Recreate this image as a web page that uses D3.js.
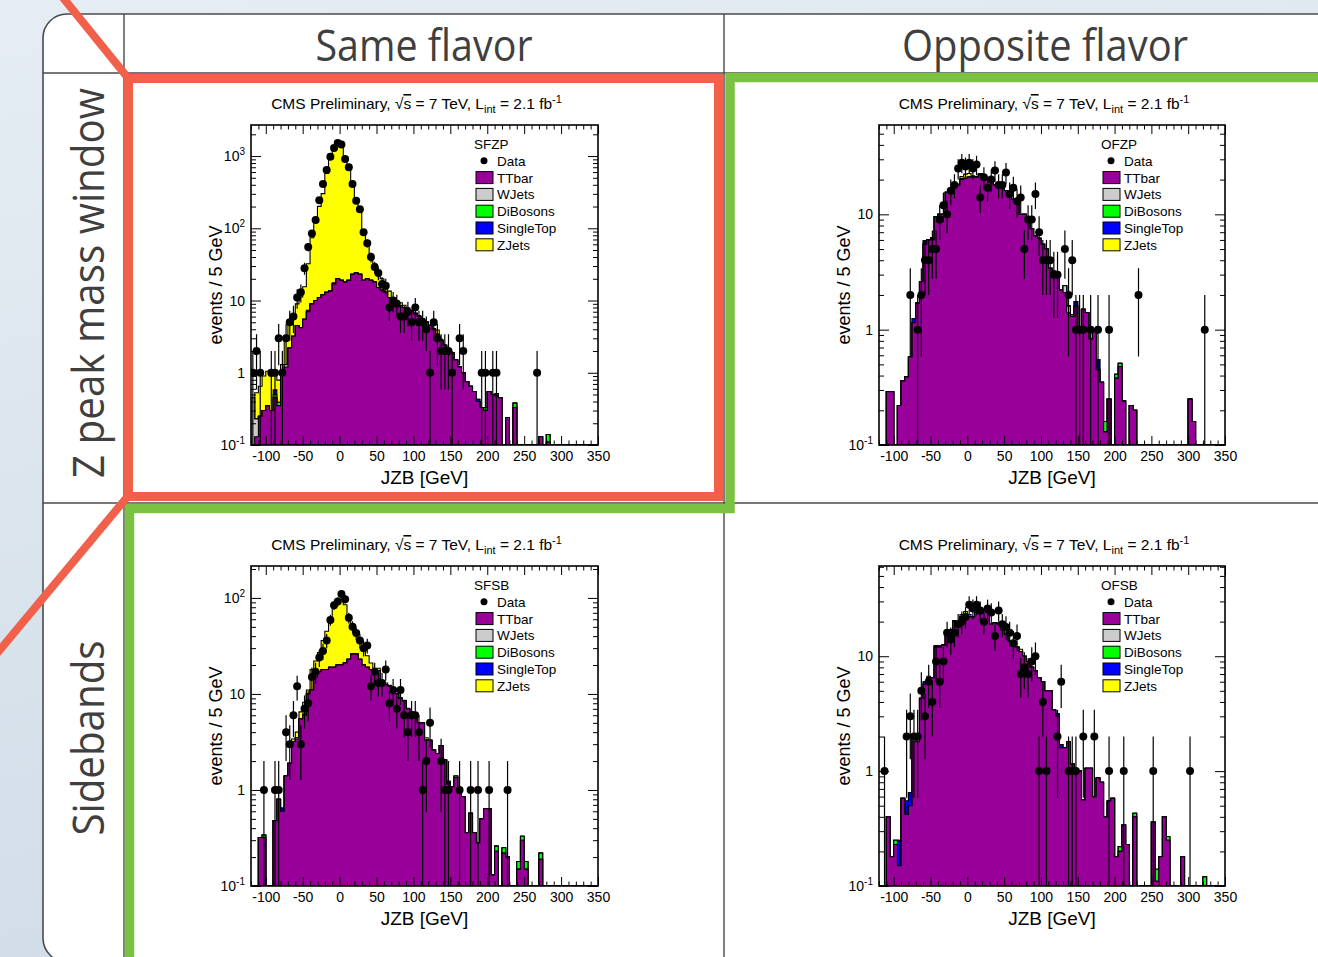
<!DOCTYPE html>
<html>
<head>
<meta charset="utf-8">
<script src="https://cdn.jsdelivr.net/npm/d3@7"></script>
<style>
  body { margin: 0; overflow: hidden; background: #dde6ee; }
  svg { display: block; }
  .root text { font-family: "Liberation Sans", Arial, Helvetica, sans-serif; fill: #000; }
</style>
</head>
<body>
<svg id="slide" width="1318" height="957"></svg>
<script>
// JZB histograms, 5 GeV bins starting at -120 GeV (index 0 = [-120,-115))
// missing trailing entries are empty bins
const sfzpTTbar = [
  0.05,0.13,0.25,0.3,0.35,0.3,0.45,0.35,1.0,1.2,
  2.2,3.2,4.5,4.2,5.5,7,9,10,11,12,
  13,13.5,17,20,19,18,19,23,24,23,
  19,20,19,18,15,14,13,11,9.5,9,
  8.5,8,7.5,7,6.5,6,5.5,5,4.5,4,
  3.4,2.8,2.4,2.1,1.9,1.5,1.2,1.0,0.75,0.65,
  0.55,0.4,0.33,0.3,0.55,0.5,0.48,0.45,0,0.24,
  0,0.33,0,0,0,0,0,0,0.13,0,
  0.11
];
const sfzpZJets = [
  0,0.3,0.4,0.6,0.7,0.6,0.35,0.4,0.3,1.5,
  2.5,3,4.5,7,10,25,65,130,190,290,
  560,950,1300,1600,1450,950,650,380,220,150,
  75,45,25,14,10,6,4,2.5,1.5,1,
  0.8,0.6,0.4,0.3,0.25,0.2,0.15,0.1,0.1,0.1,
  0.5,0.1
];
const sfzpWJets = [[0,0.4],[1,0.1],[9,0.1]];
const sfzpDiBosons = [[6,0.05],[7,0.04],[63,0.03],[66,0.03],[71,0.05],[80,0.03]];
const sfzpSingleTop = [[6,0.08],[15,0.3],[22,0.6],[61,0.03]];
const sfzpData = [
  1,2,1,0,0,1,1,3,1,3,
  5,6,11,13,28,55,85,130,245,410,
  640,980,1290,1520,1440,910,700,410,240,183,
  88,62,40,29,24,17,16,8,10,9,
  6,6,7,5,8,5,5,4,1,5,
  3,2,2,2,1,0,3,2,0,0,
  0,0,1,1,0,1,1,0,0,0,
  0,0,0,0,0,0,0,1
];

const ofzpTTbar = [
  0,0,0.29,0.29,0,0.22,0.36,0.39,0.58,1.15,
  1.7,2.6,5.5,6,6,9.5,10,10,15.5,16,
  18,18,20,20.5,21,21,21,22,21,20.5,
  19,18,18,17,16,14,13.5,12.5,10,10,
  8.5,7.5,6.5,6.2,5.5,5,3.4,3.2,3,2.2,
  2.1,1.4,1.3,1.6,1.0,1.5,1.4,0.83,0.96,0.45,
  0.35,0.13,0.25,0,0.38,0.48,0.24,0,0.22,0.2,
  0,0,0,0,0,0,0,0,0,0,
  0,0,0,0,0.25,0.16
];
const ofzpZJets = [[21,0.3],[22,0.8],[23,1.8],[24,1.6],[25,0.6],[26,0.3],[28,0.4]];
const ofzpWJets = [[50,0.3],[51,0.2]];
const ofzpDiBosons = [[52,0.05],[58,0.03],[61,0.03],[64,0.03],[65,0.03]];
const ofzpSingleTop = [[9,0.1],[12,0.4],[14,0.3],[22,0.5],[27,0.6],[32,0.4],[53,0.15],[59,0.1]];
const ofzpData = [
  0,0,0,0,0,0,0,0,2,0,
  1,2,4,4,5,5,9,12,10,16,
  18,25,28,26,28,25,27,14,21,17,
  20,24,18,18,23,15,17,13,14,5,
  9,9,15,7,4,4,4,3,3,0,
  5,2,4,1,1,1,0,1,0,1,
  0,0,1,0,0,0,0,0,0,0,
  2,0,0,0,0,0,0,0,0,0,
  0,0,0,0,0,0,0,0,1
];

const sfsbTTbar = [
  0,0,0.32,0.32,0,0,0.48,0.8,0.6,1.4,
  1.9,3.2,3.4,5.5,6,10,11,15,17,18,
  18,19,19,20,20,21,23,26,26,23,
  20,19,18,17,17.5,13,12.5,12,10.5,10,
  9,8.5,7,6.5,6,5,5,3.3,3.3,2.6,
  2.4,2.9,2.05,1.15,1.08,1.35,0.93,0.85,0.36,0.57,
  0.36,0.28,0.5,0.64,0.64,0.13,0.23,0,0.22,0.2,
  0,0,0.15,0.3,0.15,0,0,0,0.19
];
const sfsbZJets = [
  0,0,0,0,0,0,0,0,0,0,
  0,0.2,0.5,1,2,1,7,7,10,18,
  27,40,65,75,77,64,40,24,19,14,
  9,6,3,1.5,1,0.8,0.5,0.3,0.2,0.1,
  0.1,0.1,0.1,0,0,0,0,0.2
];
const sfsbWJets = [[12,0.1]];
const sfsbDiBosons = [[3,0.02],[55,0.05],[66,0.03],[68,0.03],[72,0.03],[73,0.03],[74,0.03],[78,0.03]];
const sfsbSingleTop = [[8,0.05],[14,0.2],[53,0.08]];
const sfsbData = [
  0,0,0,1,0,0,1,1,0,4,
  3,6,12,3,7,8,15,17,24,28,
  36,59,84,92,110,97,62,50,43,36,
  30,32,12,17,13,13,18,8,11,7,
  11,6,4,6,6,4,1,2,5,0,
  0,2,1,1,0,0,1,0,0,1,
  0,1,0,0,1,0,0,0,0,1
];

const ofsbTTbar = [
  0,0,0.4,0.18,0.23,0.15,0.58,0.42,0.5,1.8,
  1.8,4.3,5.7,6.5,6.5,12,12,12.5,15.5,17,
  20,19,22,23,22,22,24,24,25,24,
  19,19.5,19,17,15.5,13.5,12.5,12,11,10,
  9,8,7.5,6.5,6,5,5,3.4,3,1.6,
  1.6,1.8,1.15,1.0,1.0,0.56,1.06,1.06,0.6,0.87,
  0.8,0.4,0.55,0.58,0.18,0.2,0.34,0.23,0,0.4,
  0,0,0,0,0.36,0.11,0.18,0.4,0.25,0,
  0,0,0.18
];
const ofsbZJets = [[13,0.2],[20,0.4],[22,1],[23,1.5],[24,1],[26,0.8],[27,0.5],[33,0.6],[38,0.5]];
const ofsbWJets = [[9,0.1]];
const ofsbDiBosons = [[4,0.02],[65,0.02],[69,0.03],[75,0.03],[78,0.02],[88,0.12]];
const ofsbSingleTop = [[5,0.1],[7,0.13],[8,0.15],[12,0.3],[15,0.4],[16,0.3],[21,0.4],[32,0.4],[48,0.15],[49,0.1]];
const ofsbData = [
  0,1,0,0,0,0,0,2,3,2,
  2,5,3,6,4,9,6,9,16,14,
  16,19,20,22,28,26,28,25,20,26,
  24,15,25,19,18,16,13,15,7,8,
  7,9,10,1,4,1,0,0,2,6,
  0,1,1,1,0,2,0,0,2,0,
  0,0,1,0,0,0,1,0,0,0,
  0,0,0,0,1,0,0,0,0,0,
  0,0,0,0,1
];

const legendNames = ['TTbar', 'WJets', 'DiBosons', 'SingleTop', 'ZJets'];
const xTickLabels = [-100, -50, 0, 50, 100, 150, 200, 250, 300, 350];

const N = 94;
const edges = d3.range(-120, 351, 5);
const colors = ['#990099', '#cccccc', '#00ff00', '#0000ff', '#ffff00'];

function dense(a) {
  const out = new Array(N).fill(0);
  if (a.length && Array.isArray(a[0])) a.forEach(([i, v]) => out[i] = v);
  else a.forEach((v, i) => out[i] = v);
  return out;
}

const svg = d3.select('#slide');
const defs = svg.append('defs');
const grad = defs.append('linearGradient').attr('id', 'bg')
    .attr('x1', 0).attr('y1', 0).attr('x2', 0.3).attr('y2', 1);
grad.append('stop').attr('offset', '0%').attr('stop-color', '#e6edf4');
grad.append('stop').attr('offset', '100%').attr('stop-color', '#d0dce7');
svg.append('rect').attr('width', 1318).attr('height', 957).attr('fill', 'url(#bg)');

// slide table
const tl = 43, tt = 14, tb = 962, rad = 24;
svg.append('path')
    .attr('d', `M1330,${tt} H${tl + rad} A${rad},${rad} 0 0 0 ${tl},${tt + rad} V${tb - rad} A${rad},${rad} 0 0 0 ${tl + rad},${tb} H1330`)
    .attr('fill', '#fff').attr('stroke', '#4a4a4a').attr('stroke-width', 1.6);
const gridLines = svg.append('g').attr('stroke', '#4a4a4a').attr('stroke-width', 1.4);
gridLines.append('line').attr('x1', tl).attr('x2', 1318).attr('y1', 73).attr('y2', 73);
gridLines.append('line').attr('x1', tl).attr('x2', 1318).attr('y1', 503).attr('y2', 503);
gridLines.append('line').attr('x1', 124).attr('x2', 124).attr('y1', tt).attr('y2', 957);
gridLines.append('line').attr('x1', 724).attr('x2', 724).attr('y1', tt).attr('y2', 957);

const headFont = '"Open Sans", "Noto Sans", sans-serif';
svg.append('text').attr('x', 424).attr('y', 61).attr('text-anchor', 'middle')
    .attr('font-family', headFont).attr('font-size', 44).attr('fill', '#3f3f3f')
    .attr('textLength', 217).attr('lengthAdjust', 'spacingAndGlyphs').text('Same flavor');
svg.append('text').attr('x', 1045).attr('y', 61).attr('text-anchor', 'middle')
    .attr('font-family', headFont).attr('font-size', 44).attr('fill', '#3f3f3f')
    .attr('textLength', 286).attr('lengthAdjust', 'spacingAndGlyphs').text('Opposite flavor');
svg.append('text').attr('transform', 'translate(104,283) rotate(-90)').attr('text-anchor', 'middle')
    .attr('font-family', headFont).attr('font-size', 43).attr('fill', '#3f3f3f')
    .attr('textLength', 390).attr('lengthAdjust', 'spacingAndGlyphs').text('Z peak mass window');
svg.append('text').attr('transform', 'translate(104,738) rotate(-90)').attr('text-anchor', 'middle')
    .attr('font-family', headFont).attr('font-size', 43).attr('fill', '#3f3f3f')
    .attr('textLength', 195).attr('lengthAdjust', 'spacingAndGlyphs').text('Sidebands');

// highlight boxes
svg.append('path').attr('d', 'M129.5,962 V508.5 H730 V77.5 H1325')
    .attr('fill', 'none').attr('stroke', '#7cc242').attr('stroke-width', 9.5);
svg.append('line').attr('x1', 60).attr('y1', -6).attr('x2', 128).attr('y2', 78)
    .attr('stroke', '#f0604a').attr('stroke-width', 8);
svg.append('line').attr('x1', 128).attr('y1', 496).attr('x2', -6).attr('y2', 657)
    .attr('stroke', '#f0604a').attr('stroke-width', 8);
svg.append('rect').attr('x', 128.5).attr('y', 78.5).attr('width', 590).attr('height', 418)
    .attr('fill', 'none').attr('stroke', '#f0604a').attr('stroke-width', 9);

const panels = [
  { name: 'SFZP', x0: 251, x1: 598, y0: 125, y1: 445, yTop: 2690,
    comps: [sfzpTTbar, sfzpWJets, sfzpDiBosons, sfzpSingleTop, sfzpZJets], data: sfzpData },
  { name: 'OFZP', x0: 879, x1: 1225, y0: 125, y1: 445, yTop: 59.5,
    comps: [ofzpTTbar, ofzpWJets, ofzpDiBosons, ofzpSingleTop, ofzpZJets], data: ofzpData },
  { name: 'SFSB', x0: 251, x1: 598, y0: 566, y1: 886, yTop: 215,
    comps: [sfsbTTbar, sfsbWJets, sfsbDiBosons, sfsbSingleTop, sfsbZJets], data: sfsbData },
  { name: 'OFSB', x0: 879, x1: 1225, y0: 566, y1: 886, yTop: 61,
    comps: [ofsbTTbar, ofsbWJets, ofsbDiBosons, ofsbSingleTop, ofsbZJets], data: ofsbData }
];

function supText(sel, base, exp) {
  sel.append('tspan').text(base);
  if (exp !== null) sel.append('tspan').attr('dy', -6).attr('font-size', 10).text(exp);
}

panels.forEach((p, pi) => {
  const x = d3.scaleLinear().domain([-120, 350]).range([p.x0, p.x1]);
  const y = d3.scaleLog().domain([0.1, p.yTop]).range([p.y1, p.y0]).clamp(true);
  const yv = v => v > 0.1 ? y(v) : p.y1;
  const g = svg.append('g').attr('class', 'root');

  defs.append('clipPath').attr('id', 'clip' + pi).append('rect')
      .attr('x', p.x0).attr('y', p.y0).attr('width', p.x1 - p.x0).attr('height', p.y1 - p.y0);
  const plot = g.append('g').attr('clip-path', `url(#clip${pi})`);

  // stacked MC
  const comps = p.comps.map(dense);
  const cum = [];
  let run = new Array(N).fill(0);
  comps.forEach(c => { run = run.map((v, i) => v + c[i]); cum.push(run); });
  const area = d3.area().curve(d3.curveStepAfter)
      .x(d => x(d[0])).y0(p.y1).y1(d => yv(d[1]));
  for (let k = cum.length - 1; k >= 0; k--) {
    const pts = cum[k].map((v, i) => [edges[i], v]).concat([[350, cum[k][N - 1]]]);
    plot.append('path').attr('d', area(pts))
        .attr('fill', colors[k]).attr('stroke', '#000').attr('stroke-width', 1.1);
  }

  // data with poisson errors
  const pts = p.data.map((n, i) => ({ c: edges[i] + 2.5, n })).filter(d => d.n > 0);
  plot.selectAll('.err').data(pts).join('line').attr('class', 'err')
      .attr('x1', d => x(d.c)).attr('x2', d => x(d.c))
      .attr('y1', d => yv(d.n + Math.sqrt(d.n))).attr('y2', d => yv(d.n - Math.sqrt(d.n)))
      .attr('stroke', '#000').attr('stroke-width', 1.2);
  plot.selectAll('.dot').data(pts).join('circle').attr('class', 'dot')
      .attr('cx', d => x(d.c)).attr('cy', d => y(d.n)).attr('r', 4).attr('fill', '#000');

  // axes, ROOT style ticks inside on all sides
  const xMinor = d3.range(-120, 351, 10).filter(v => v % 50 !== 0);
  const lo = -1, hi = Math.floor(Math.log10(p.yTop));
  const decades = d3.range(lo, hi + 1).map(k => Math.pow(10, k));
  const yMinor = [];
  decades.forEach(d => d3.range(2, 10).forEach(m => { if (m * d < p.yTop) yMinor.push(m * d); }));

  const axes = [
    [d3.axisBottom(x).tickValues(xTickLabels).tickSize(-9), `translate(0,${p.y1})`],
    [d3.axisBottom(x).tickValues(xMinor).tickSize(-4.5), `translate(0,${p.y1})`],
    [d3.axisTop(x).tickValues(xTickLabels).tickSize(-9), `translate(0,${p.y0})`],
    [d3.axisTop(x).tickValues(xMinor).tickSize(-4.5), `translate(0,${p.y0})`],
    [d3.axisLeft(y).tickValues(decades).tickSize(-10), `translate(${p.x0},0)`],
    [d3.axisLeft(y).tickValues(yMinor).tickSize(-5), `translate(${p.x0},0)`],
    [d3.axisRight(y).tickValues(decades).tickSize(-10), `translate(${p.x1},0)`],
    [d3.axisRight(y).tickValues(yMinor).tickSize(-5), `translate(${p.x1},0)`]
  ];
  axes.forEach(([ax, tr], ai) => {
    const a = g.append('g').attr('transform', tr).call(ax.tickFormat(ai === 0 ? d => String(d) : ''));
    a.select('.domain').remove();
    a.selectAll('line').attr('stroke', '#000').attr('stroke-width', 1);
    a.selectAll('text').attr('font-size', 14).attr('font-family', '"Liberation Sans", Arial, sans-serif')
        .attr('dy', '1.05em').attr('y', 1);
  });

  decades.forEach(d => {
    const k = Math.round(Math.log10(d));
    const t = g.append('text').attr('x', p.x0 - 6).attr('y', y(d) + 5)
        .attr('text-anchor', 'end').attr('font-size', 14);
    if (k === 0) supText(t, '1', null);
    else if (k === 1) supText(t, '10', null);
    else supText(t, '10', String(k));
  });

  g.append('rect').attr('x', p.x0).attr('y', p.y0)
      .attr('width', p.x1 - p.x0).attr('height', p.y1 - p.y0)
      .attr('fill', 'none').attr('stroke', '#000').attr('stroke-width', 1.6);

  // titles
  const cx = (p.x0 + p.x1) / 2;
  const title = g.append('text').attr('x', cx - 8).attr('y', p.y0 - 16)
      .attr('text-anchor', 'middle').attr('font-size', 15.5);
  title.append('tspan').text('CMS Preliminary, \u221A');
  title.append('tspan').attr('text-decoration', 'overline').text('s');
  title.append('tspan').text(' = 7 TeV, L');
  title.append('tspan').attr('dy', 4).attr('font-size', 11).text('int');
  title.append('tspan').attr('dy', -4).text(' = 2.1 fb');
  title.append('tspan').attr('dy', -6).attr('font-size', 11).text('-1');

  g.append('text').attr('x', cx).attr('y', p.y1 + 39).attr('text-anchor', 'middle')
      .attr('font-size', 19).text('JZB [GeV]');
  g.append('text').attr('transform', `translate(${p.x0 - 29},${(p.y0 + p.y1) / 2}) rotate(-90)`)
      .attr('text-anchor', 'middle').attr('font-size', 18).text('events / 5 GeV');

  // legend
  const lx = p.x1 - 124, ly = p.y0 + 19, step = 16.8;
  const leg = g.append('g').attr('font-size', 13.5);
  leg.append('text').attr('x', lx).attr('y', ly + 5).text(p.name);
  leg.append('circle').attr('cx', lx + 10).attr('cy', ly + step).attr('r', 3.5).attr('fill', '#000');
  leg.append('text').attr('x', lx + 23).attr('y', ly + step + 5).text('Data');
  legendNames.forEach((nm, k) => {
    const ry = ly + step * (k + 2);
    leg.append('rect').attr('x', lx + 2).attr('y', ry - 6).attr('width', 17).attr('height', 12)
        .attr('fill', colors[k]).attr('stroke', '#000').attr('stroke-width', 1);
    leg.append('text').attr('x', lx + 23).attr('y', ry + 5).text(nm);
  });
});
</script>
</body>
</html>
